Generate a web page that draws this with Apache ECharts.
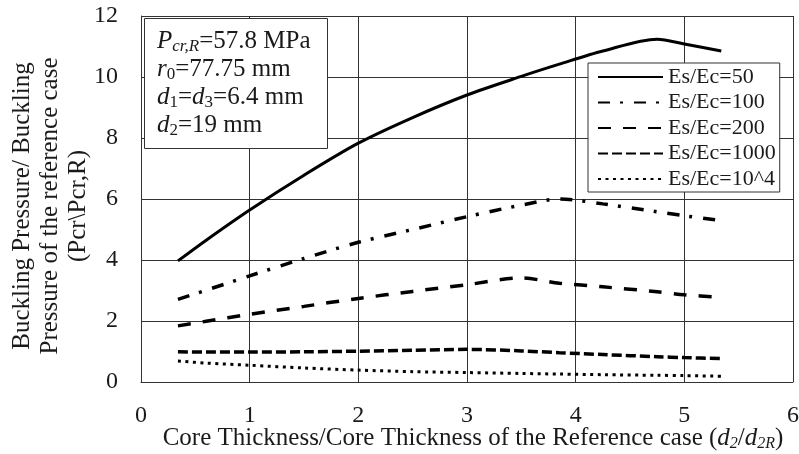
<!DOCTYPE html>
<html>
<head>
<meta charset="utf-8">
<script src="https://cdn.jsdelivr.net/npm/echarts@6/dist/echarts.min.js"></script>
<style>
html,body{margin:0;padding:0;background:#fff;}
#chart{width:799px;height:454px;}
</style>
</head>
<body>
<div id="chart"></div>
<script>
// Data
var xValues = [0.34, 0.6, 1, 1.5, 2, 2.5, 3, 3.5, 3.85, 4.25, 4.75, 5, 5.34];
var es50   = [3.97, 4.65, 5.64, 6.78, 7.83, 8.67, 9.41, 10.02, 10.42, 10.85, 11.24, 11.08, 10.85];
var es100  = [2.71, 3.01, 3.48, 4.05, 4.58, 5.0, 5.42, 5.8, 6.0, 5.84, 5.58, 5.45, 5.29];
var es200  = [1.84, 1.99, 2.22, 2.48, 2.74, 2.97, 3.19, 3.41, 3.24, 3.12, 2.96, 2.86, 2.78];
var es1000 = [0.99, 0.98, 0.98, 0.99, 1.01, 1.04, 1.07, 1.02, 0.96, 0.9, 0.83, 0.8, 0.77];
var es1e4  = [0.69, 0.62, 0.55, 0.46, 0.39, 0.34, 0.31, 0.28, 0.26, 0.24, 0.22, 0.21, 0.19];
var seriesNames = ['Es/Ec=50', 'Es/Ec=100', 'Es/Ec=200', 'Es/Ec=1000', 'Es/Ec=10^4'];
var xTicks = [0, 1, 2, 3, 4, 5, 6];
var yTicks = [0, 2, 4, 6, 8, 10, 12];

var FONT = '"Liberation Serif", "DejaVu Serif", serif';
var INK = '#1a1a1a';

function pairs(ys) { return xValues.map(function (x, i) { return [x, ys[i]]; }); }

var styles = [
  { width: 3, type: 'solid' },
  { width: 3.5, type: [12, 10, 3, 11] },
  { width: 3.5, type: [13, 12] },
  { width: 3.5, type: [10, 4] },
  { width: 3, type: [3, 4.5] }
];
var allData = [es50, es100, es200, es1000, es1e4];

var chart = echarts.init(document.getElementById('chart'), null, { renderer: 'canvas' });
chart.setOption({
  backgroundColor: '#fff',
  animation: false,
  textStyle: { fontFamily: FONT, color: INK },
  grid: { left: 141, right: 6, top: 16, bottom: 72, containLabel: false, outerBoundsMode: 'none' },
  xAxis: {
    type: 'value', min: xTicks[0], max: xTicks[xTicks.length - 1], interval: 1,
    axisLine: { show: true, lineStyle: { color: '#333', width: 1 } },
    axisTick: { show: false },
    splitLine: { show: true, lineStyle: { color: '#333', width: 1 } },
    axisLabel: { fontSize: 24, color: INK, fontFamily: FONT, margin: 22 },
    name: '{n|Core Thickness/Core Thickness of the Reference case (}{i|d}{s|2}{n|/}{i|d}{s|2R}{n|)}',
    nameLocation: 'middle', nameGap: 42, nameMoveOverlap: false,
    nameTextStyle: {
      fontFamily: FONT, color: INK, fontSize: 25, padding: [0, 0, 0, 12],
      rich: {
        n: { fontFamily: FONT, fontSize: 25, color: INK, lineHeight: 28 },
        i: { fontFamily: FONT, fontSize: 25, color: INK, fontStyle: 'italic', lineHeight: 28 },
        s: { fontFamily: FONT, fontSize: 16, color: INK, fontStyle: 'italic', lineHeight: 16, verticalAlign: 'bottom' }
      }
    }
  },
  yAxis: {
    type: 'value', min: yTicks[0], max: yTicks[yTicks.length - 1], interval: 2,
    axisLine: { show: true, lineStyle: { color: '#333', width: 1 } },
    axisTick: { show: false },
    splitLine: { show: true, lineStyle: { color: '#333', width: 1 } },
    axisLabel: { fontSize: 24, color: INK, fontFamily: FONT, margin: 23 },
    name: 'Buckling Pressure/ Buckling\nPressure of the reference case\n(Pcr\\Pcr,R)',
    nameLocation: 'middle', nameRotate: 90, nameGap: 49, nameMoveOverlap: false,
    nameTextStyle: { fontFamily: FONT, color: INK, fontSize: 25, lineHeight: 28, padding: [0, 14, 0, 0] }
  },
  legend: {
    orient: 'vertical', left: 588, top: 63,
    backgroundColor: '#fff', borderColor: '#333', borderWidth: 1,
    padding: [3, 4, 2, 9],
    itemWidth: 65, itemHeight: 14, itemGap: 3.5,
    itemStyle: { opacity: 0 },
    textStyle: { fontFamily: FONT, fontSize: 22, color: INK, lineHeight: 20 },
    data: seriesNames
  },
  series: seriesNames.map(function (name, k) {
    return {
      name: name, type: 'line', smooth: 0.3, symbol: 'none',
      data: pairs(allData[k]),
      lineStyle: { color: '#000', width: styles[k].width, type: styles[k].type, cap: 'butt' },
      itemStyle: { color: '#000', opacity: 0 }
    };
  }),
  graphic: [
    {
      type: 'rect', left: 144, top: 18, z: 10,
      shape: { width: 183, height: 130 },
      style: { fill: '#fff', stroke: '#333', lineWidth: 1 }
    },
    {
      type: 'text', left: 157, top: 29, z: 11,
      style: {
        text: '{i|P}{si|cr,R}{n|=57.8 MPa}\n{i|r}{s|0}{n|=77.75 mm}\n{i|d}{s|1}{n|=}{i|d}{s|3}{n|=6.4 mm}\n{i|d}{s|2}{n|=19 mm}',
        fill: INK,
        rich: {
          n: { fontFamily: FONT, fontSize: 25, fill: INK, lineHeight: 28 },
          i: { fontFamily: FONT, fontSize: 25, fill: INK, fontStyle: 'italic', lineHeight: 28 },
          s: { fontFamily: FONT, fontSize: 17, fill: INK, lineHeight: 15, verticalAlign: 'bottom' },
          si: { fontFamily: FONT, fontSize: 17, fill: INK, fontStyle: 'italic', lineHeight: 15, verticalAlign: 'bottom' }
        }
      }
    }
  ]
});
</script>
</body>
</html>
